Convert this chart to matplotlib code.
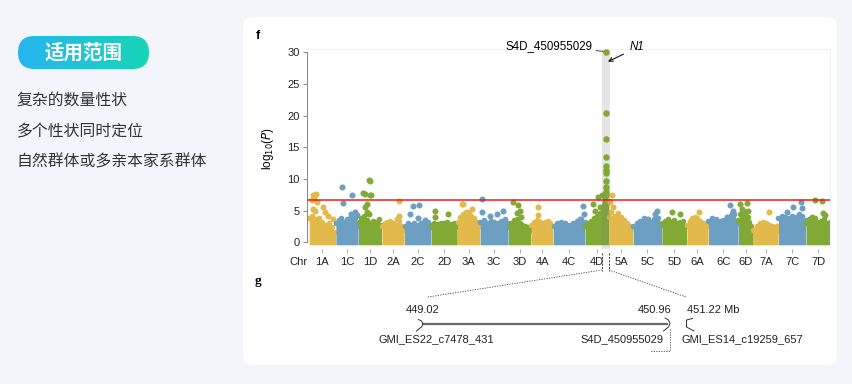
import numpy as np
import matplotlib
matplotlib.use('Agg')
import matplotlib.pyplot as plt
from matplotlib.patches import FancyBboxPatch
from matplotlib.colors import LinearSegmentedColormap

plt.rcParams['font.family'] = ['Liberation Sans', 'DejaVu Sans']
CJK = ['Noto Sans CJK SC', 'DejaVu Sans']

W, H = 852, 384

# ---- data ----
chroms = ['1A', '1C', '1D', '2A', '2C', '2D', '3A', '3C', '3D', '4A', '4C', '4D',
          '5A', '5C', '5D', '6A', '6C', '6D', '7A', '7C', '7D']
chrom_len = [561, 475, 491, 475, 561, 552, 477, 594, 477, 468, 666, 504,
             510, 596, 525, 454, 630, 315, 525, 582, 504]

# top of the dense cloud of SNPs, read at evenly spaced points along each chromosome
mass_top = [
    [3.8, 4.2, 3.6, 3.8, 3.2, 2.8, 3.0, 2.4, 1.6],
    [3.0, 3.5, 3.8, 3.2, 3.6, 3.9, 3.4, 3.8, 2.5],
    [3.2, 3.8, 4.2, 3.5, 3.0, 3.4, 3.2, 3.6, 2.8],
    [2.6, 3.0, 3.2, 3.4, 3.0, 2.8, 3.3, 2.5, 2.0],
    [2.6, 3.0, 2.8, 3.1, 2.7, 3.0, 2.8, 3.2, 2.4],
    [2.8, 3.0, 2.9, 3.1, 3.0, 3.2, 2.9, 3.0, 2.6],
    [3.2, 4.0, 4.5, 4.8, 4.6, 4.2, 3.8, 3.2, 2.6],
    [3.2, 3.5, 3.0, 3.4, 3.2, 3.0, 3.3, 3.6, 3.0],
    [2.4, 3.0, 3.5, 3.6, 3.0, 2.8, 2.6, 2.4, 2.0],
    [2.8, 3.2, 3.5, 3.3, 3.0, 3.2, 3.4, 3.0, 2.5],
    [2.5, 3.0, 3.2, 3.1, 2.8, 3.0, 3.3, 3.6, 3.2],
    [2.6, 3.0, 3.4, 3.8, 4.2, 4.6, 7.5, 8.5, 6.5],
    [4.0, 3.8, 4.2, 4.6, 4.0, 3.5, 3.0, 2.6, 2.2],
    [2.6, 3.0, 3.4, 3.8, 3.5, 3.2, 3.6, 3.8, 2.8],
    [3.0, 3.4, 3.6, 3.2, 3.5, 3.0, 3.2, 3.4, 2.6],
    [2.8, 3.4, 3.8, 4.0, 3.8, 3.4, 3.0, 2.8, 2.5],
    [3.4, 3.8, 3.6, 3.4, 3.5, 3.8, 4.2, 4.4, 3.0],
    [3.5, 4.5, 4.8, 5.0, 4.8, 4.0, 3.2, 2.5, 2.0],
    [2.0, 2.6, 3.0, 3.2, 3.0, 2.8, 2.6, 2.4, 2.0],
    [3.8, 4.2, 4.0, 3.8, 4.2, 4.0, 4.4, 4.2, 3.5],
    [3.0, 3.6, 3.4, 3.8, 3.2, 3.4, 3.6, 3.0, 3.2],
]

# isolated SNPs above the cloud: (position in Mb, -log10 P)
hits = [
    [(70, 6.6), (90, 7.5), (110, 7.2), (140, 7.6), (160, 6.3), (75, 5.3), (125, 5.0), (300, 5.5), (335, 4.8), (405, 4.2), (510, 3.6)],
    [(126, 8.7), (160, 6.2), (350, 7.4), (330, 4.5), (400, 4.7), (440, 4.3)],
    [(215, 9.8), (235, 9.6), (105, 7.7), (140, 7.6), (250, 7.5), (275, 7.5), (175, 6.0), (150, 5.5), (190, 4.8), (215, 4.4)],
    [(370, 6.5), (360, 4.1), (330, 3.6)],
    [(190, 5.8), (315, 5.9), (120, 4.4), (435, 3.5), (280, 3.9)],
    [(84, 4.9), (90, 4.0), (363, 4.5)],
    [(92, 6.1), (126, 6.0), (300, 5.3), (200, 4.8)],
    [(35, 6.9), (50, 4.8), (210, 4.2), (350, 4.5), (490, 5.0)],
    [(105, 6.3), (210, 5.9), (240, 5.0), (190, 4.6), (260, 4.0)],
    [(155, 5.5), (140, 4.3)],
    [(630, 5.8), (650, 4.5), (560, 3.6)],
    [(175, 6.1), (210, 5.0), (280, 7.1), (350, 7.4), (320, 5.5)],
    [(56, 7.4), (20, 6.4), (50, 4.8), (77, 5.5)],
    [(490, 5.0), (455, 4.5), (315, 3.7)],
    [(210, 4.8), (385, 4.5)],
    [(265, 4.8)],
    [(455, 5.9), (525, 5.0), (490, 4.4), (385, 4.0)],
    [(35, 6.1), (190, 6.2), (70, 5.2), (210, 5.0)],
    [(336, 4.8), (490, 2.5)],
    [(470, 6.4), (490, 5.4), (315, 5.6), (175, 4.8)],
    [(190, 6.7), (330, 6.5), (365, 4.6), (400, 4.3), (120, 4.0)],
]

peak_chrom = '4D'
peak_pos = 450.96
peak_vals = [30.1, 20.4, 16.3, 13.5, 12.1, 11.4, 10.9, 9.6, 8.8, 8.0, 7.5]
threshold = 6.7
yticks = [0, 5, 10, 15, 20, 25, 30]

uses = ['复杂的数量性状', '多个性状同时定位', '自然群体或多亲本家系群体']

sub_colors = {'A': '#E2B94B', 'C': '#6C9FC2', 'D': '#80A935'}

# ---- figure / background ----
fig = plt.figure(figsize=(W / 100, H / 100), dpi=100, facecolor='#F4F5FA')
bg = fig.add_axes([0, 0, 1, 1], zorder=0)
bg.set_xlim(0, W)
bg.set_ylim(H, 0)
bg.axis('off')

card = FancyBboxPatch((243, 17), 594, 348, boxstyle='round,pad=0,rounding_size=10',
                      fc='white', ec='none')
bg.add_patch(card)

badge = FancyBboxPatch((18, 36), 131, 33, boxstyle='round,pad=0,rounding_size=16.5',
                       fc='none', ec='none')
bg.add_patch(badge)
grad = np.linspace(0, 1, 256).reshape(1, -1)
cmap = LinearSegmentedColormap.from_list('badge', ['#27B5F0', '#17D6B6'])
im = bg.imshow(grad, extent=[18, 149, 69, 36], aspect='auto', cmap=cmap, zorder=1)
im.set_clip_path(badge)
bg.text(83.5, 52.5, '适用范围', ha='center', va='center', fontsize=14,
        fontweight='bold', color='white', family=CJK, zorder=2)
for i, t in enumerate(uses):
    bg.text(16.5, 101.5 + 30 * i, t, ha='left', va='center', fontsize=11.4,
            color='#333333', family=CJK)

bg.text(258, 36, 'f', fontsize=9, fontweight='bold', ha='center', va='center')
bg.text(258, 281, 'g', fontsize=9.5, fontweight='bold', ha='center', va='center',
        family=['Liberation Serif', 'DejaVu Serif'])

# ---- manhattan ----
left_px, right_px, top_px, bot_px = 306.7, 830, 49, 249
ax = fig.add_axes([left_px / W, 1 - bot_px / H, (right_px - left_px) / W, (bot_px - top_px) / H],
                  zorder=2)
ax.set_facecolor('none')

starts = np.concatenate([[0], np.cumsum(chrom_len)[:-1]])
total = float(np.sum(chrom_len))
mb_per_px = total / (830 - 309)
ax.set_xlim(-2.3 * mb_per_px, total)
ax.set_ylim(-1.06, 30.5)

for name, st, L, top, pts in zip(chroms, starts, chrom_len, mass_top, hits):
    c = sub_colors[name[1]]
    xs = np.linspace(st + 4, st + L - 4, len(top))
    ax.fill_between(xs, -0.4, top, color=c, lw=0, zorder=2)
    ax.scatter(xs, top, s=16, color=c, lw=0, zorder=2)
    if pts:
        px_, py_ = zip(*pts)
        ax.scatter(st + np.array(px_), py_, s=19, color=c, lw=0, zorder=2)

pk = chroms.index(peak_chrom)
peak_x = starts[pk] + peak_pos
ax.axvspan(peak_x - 4 * mb_per_px, peak_x + 4 * mb_per_px, ymin=0, ymax=(30.4 + 1.06) / 31.56,
           color='#808080', alpha=0.2, lw=0, zorder=3)
ax.scatter([peak_x] * len(peak_vals), peak_vals, s=22, color=sub_colors['D'], lw=0, zorder=4)
ax.axhline(threshold, color='#EE1C1C', lw=1.1, zorder=5)

centers = starts + np.array(chrom_len) / 2
ax.set_xticks(centers)
ax.set_xticklabels(chroms)
ax.set_yticks(yticks)
ax.tick_params(axis='x', length=3, width=0.7, color='#AAAAAA', labelsize=8, pad=2.5,
               labelcolor='#222222')
ax.tick_params(axis='y', length=3, width=0.7, color='#888888', labelsize=8, pad=2,
               labelcolor='#222222')
ax.spines['bottom'].set_visible(False)
ax.spines['left'].set_bounds(0, 30)
ax.spines['left'].set_color('#888888')
ax.spines['left'].set_linewidth(0.7)
for s in ['top', 'right']:
    ax.spines[s].set_color('#F0F0F0')
    ax.spines[s].set_linewidth(0.8)
ax.set_ylabel(r'log$_{10}$($P$)', fontsize=8.5, labelpad=8)
bg.text(298, 262, 'Chr', fontsize=8, ha='center', va='center', color='#222222')

# dashed marks for the zoomed region
tr = ax.get_xaxis_transform()
for dx in (-4.4, 2.3):
    ax.plot([peak_x + dx * mb_per_px] * 2, [-0.02, -0.11], transform=tr, clip_on=False,
            color='#333333', lw=0.7, ls=(0, (2, 1.5)))

ax.annotate('S4D_450955029', xy=(peak_x - 1.5 * mb_per_px, 30.1), xytext=(592, 45.7),
            textcoords=bg.transData, ha='right', va='center', fontsize=8.3,
            arrowprops=dict(arrowstyle='-', ls=(0, (2, 1)), lw=0.7, color='#333333',
                            shrinkA=1, shrinkB=1))
ax.annotate('N1', xy=(peak_x + 1.4 * mb_per_px, 28.5), xytext=(630, 47.5),
            textcoords=bg.transData, ha='left', va='center', fontsize=8.3, style='italic',
            arrowprops=dict(arrowstyle='->', lw=0.8, color='#111111', shrinkA=3, shrinkB=0,
                            mutation_scale=7))

# ---- panel g: the fine-mapped interval ----
dot = dict(color='#444444', lw=0.6, ls=(0, (1.5, 1.5)))
bg.plot([602, 428], [270, 297], **dot)
bg.plot([609, 686], [270, 297], **dot)
bg.plot([422, 668], [324, 324], color='#6B6B6B', lw=1.6, solid_capstyle='butt')
bg.plot([418.5, 421.5, 423, 421.5, 419.5, 416.5], [319.5, 321, 324, 327, 328.5, 331], color='#333333', lw=0.7)
bg.plot([665, 668.5, 670, 668.5, 666.5, 663.5], [318, 320, 323.5, 327, 328.5, 331], color='#333333', lw=0.7)
bg.plot([692.5, 686.5, 686.5, 694], [318.5, 320, 327, 331], color='#333333', lw=0.7)
bg.plot([670, 670, 650], [329, 351, 351], **dot)

gtxt = dict(fontsize=8, ha='center', va='center', color='#222222')
bg.text(423, 310, '449.02', **gtxt)
bg.text(654.5, 310, '450.96', **gtxt)
bg.text(713, 310, '451.22 Mb', **gtxt)
bg.text(436, 339.5, 'GMI_ES22_c7478_431', **gtxt)
bg.text(622, 339.5, 'S4D_450955029', **gtxt)
bg.text(742.5, 339.5, 'GMI_ES14_c19259_657', **gtxt)

fig.savefig('out.png', dpi=100, facecolor=fig.get_facecolor())
